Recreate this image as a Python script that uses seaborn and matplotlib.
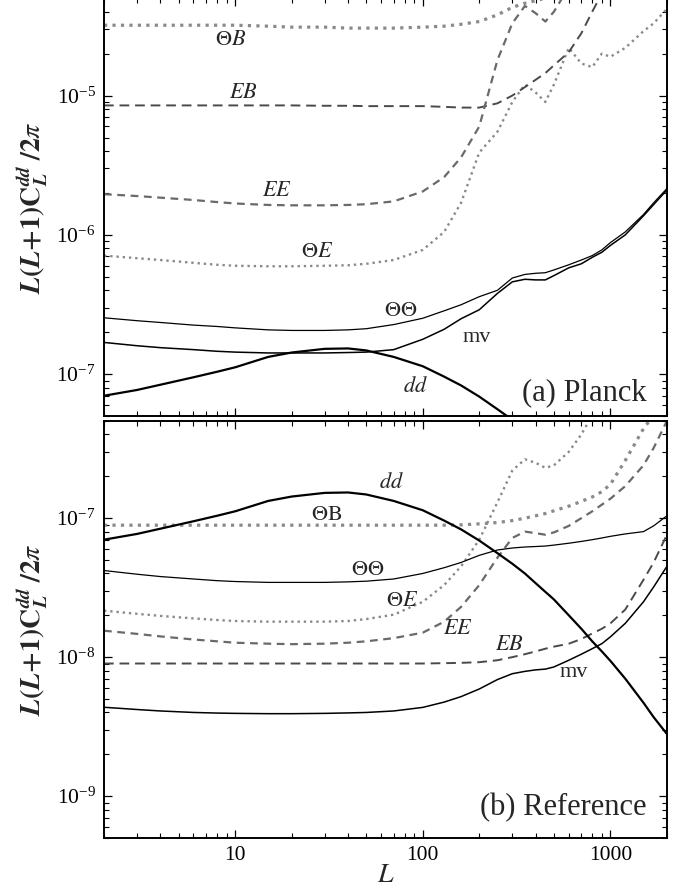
import numpy as np
import matplotlib
matplotlib.use('Agg')
import matplotlib.pyplot as plt
import matplotlib.ticker as mticker
import seaborn as sns

# multipole grid shared by every curve
L = [2, 3, 4, 6, 8, 10, 15, 20, 30, 40, 50, 70, 100, 130, 160, 200, 250, 300,
     350, 400, 450, 500, 600, 700, 800, 900, 1000, 1200, 1500, 1700, 2000]
nan = np.nan

# lensing signal (same in both panels)
dd = [7.0e-8, 7.7e-8, 8.4e-8, 9.5e-8, 1.04e-7, 1.12e-7, 1.33e-7, 1.43e-7, 1.52e-7, 1.53e-7,
      1.48e-7, 1.33e-7, 1.14e-7, 9.6e-8, 8.3e-8, 6.9e-8, 5.6e-8, 4.7e-8, 4.0e-8, 3.4e-8,
      2.95e-8, 2.6e-8, 2.0e-8, 1.6e-8, 1.3e-8, 1.1e-8, 9.4e-9, 7.0e-9, 4.7e-9, 3.7e-9, 2.8e-9]

# (a) Planck noise curves
planck_TB = [3.2e-5, 3.2e-5, 3.2e-5, 3.2e-5, 3.2e-5, 3.2e-5, 3.15e-5, 3.1e-5, 3.1e-5, 3.05e-5,
             3.05e-5, 3.05e-5, 3.1e-5, 3.15e-5, 3.25e-5, 3.4e-5, 3.8e-5, 4.3e-5, 4.6e-5, 4.8e-5,
             5.0e-5, 5.2e-5, nan, nan, nan, nan, nan, nan, nan, nan, nan]
planck_EB = [8.5e-6, 8.5e-6, 8.5e-6, 8.5e-6, 8.5e-6, 8.5e-6, 8.5e-6, 8.5e-6, 8.45e-6, 8.45e-6,
             8.4e-6, 8.4e-6, 8.4e-6, 8.3e-6, 8.2e-6, 8.2e-6, 8.8e-6, 1.0e-5, 1.15e-5, 1.3e-5,
             1.45e-5, 1.65e-5, 2.05e-5, 2.8e-5, 4.0e-5, 5.4e-5, nan, nan, nan, nan, nan]
planck_EE = [1.96e-6, 1.9e-6, 1.85e-6, 1.78e-6, 1.72e-6, 1.68e-6, 1.64e-6, 1.63e-6, 1.63e-6, 1.64e-6,
             1.66e-6, 1.74e-6, 2.05e-6, 2.6e-6, 3.6e-6, 6.0e-6, 1.8e-5, 3.3e-5, 4.4e-5, 3.9e-5,
             3.4e-5, 4.0e-5, 6.0e-5, nan, nan, nan, nan, nan, nan, nan, nan]
planck_TE = [7.1e-7, 6.8e-7, 6.6e-7, 6.3e-7, 6.1e-7, 6.0e-7, 5.95e-7, 5.95e-7, 6.0e-7, 6.05e-7,
             6.2e-7, 6.6e-7, 7.8e-7, 1.05e-6, 1.7e-6, 3.9e-6, 5.5e-6, 9.0e-6, 1.2e-5, 1.05e-5,
             9.0e-6, 1.2e-5, 2.2e-5, 1.7e-5, 1.6e-5, 2.0e-5, 1.9e-5, 2.2e-5, 2.9e-5, 3.3e-5, 4.2e-5]
planck_TT = [2.54e-7, 2.42e-7, 2.35e-7, 2.25e-7, 2.2e-7, 2.15e-7, 2.08e-7, 2.06e-7, 2.06e-7, 2.08e-7,
             2.12e-7, 2.27e-7, 2.52e-7, 2.85e-7, 3.15e-7, 3.6e-7, 4.0e-7, 4.9e-7, 5.2e-7, 5.3e-7,
             5.35e-7, 5.6e-7, 6.1e-7, 6.6e-7, 7.1e-7, 7.8e-7, 8.8e-7, 1.05e-6, 1.4e-6, 1.7e-6, 2.15e-6]
planck_mv = [1.69e-7, 1.6e-7, 1.55e-7, 1.5e-7, 1.46e-7, 1.44e-7, 1.42e-7, 1.42e-7, 1.42e-7, 1.43e-7,
             1.44e-7, 1.5e-7, 1.78e-7, 2.1e-7, 2.5e-7, 2.9e-7, 3.8e-7, 4.6e-7, 4.8e-7, 4.75e-7,
             4.75e-7, 5.1e-7, 5.8e-7, 6.2e-7, 6.9e-7, 7.5e-7, 8.4e-7, 1.0e-6, 1.37e-6, 1.65e-6, 2.1e-6]

# (b) Reference experiment noise curves
ref_TB = [8.9e-8, 8.9e-8, 8.9e-8, 8.9e-8, 8.9e-8, 8.9e-8, 8.9e-8, 8.9e-8, 8.9e-8, 8.9e-8,
          8.9e-8, 8.9e-8, 8.9e-8, 8.9e-8, 8.95e-8, 9.1e-8, 9.3e-8, 9.6e-8, 1.0e-7, 1.04e-7,
          1.08e-7, 1.13e-7, 1.22e-7, 1.32e-7, 1.42e-7, 1.55e-7, 1.75e-7, 2.6e-7, 4.4e-7, 5.5e-7, nan]
ref_TT = [4.2e-8, 3.95e-8, 3.8e-8, 3.65e-8, 3.55e-8, 3.5e-8, 3.45e-8, 3.45e-8, 3.45e-8, 3.48e-8,
          3.52e-8, 3.65e-8, 4.0e-8, 4.4e-8, 4.8e-8, 5.4e-8, 5.9e-8, 6.1e-8, 6.2e-8, 6.25e-8,
          6.3e-8, 6.4e-8, 6.6e-8, 6.8e-8, 7.0e-8, 7.2e-8, 7.4e-8, 7.7e-8, 8.0e-8, 8.8e-8, 1.04e-7]
ref_TE = [2.16e-8, 2.05e-8, 1.98e-8, 1.9e-8, 1.85e-8, 1.82e-8, 1.8e-8, 1.8e-8, 1.8e-8, 1.82e-8,
          1.88e-8, 2.02e-8, 2.5e-8, 3.3e-8, 4.5e-8, 7.0e-8, 1.3e-7, 2.2e-7, 2.65e-7, 2.5e-7,
          2.3e-7, 2.4e-7, 3.0e-7, 4.0e-7, 5.5e-7, nan, nan, nan, nan, nan, nan]
ref_EE = [1.55e-8, 1.47e-8, 1.41e-8, 1.34e-8, 1.3e-8, 1.27e-8, 1.25e-8, 1.24e-8, 1.25e-8, 1.27e-8,
          1.3e-8, 1.37e-8, 1.5e-8, 1.8e-8, 2.3e-8, 3.3e-8, 5.2e-8, 7.2e-8, 8.0e-8, 7.8e-8,
          7.6e-8, 7.9e-8, 8.8e-8, 1.0e-7, 1.12e-7, 1.25e-7, 1.38e-7, 1.7e-7, 2.4e-7, 3.2e-7, 5.0e-7]
ref_EB = [9.0e-9, 9.0e-9, 9.0e-9, 9.0e-9, 9.0e-9, 9.0e-9, 9.0e-9, 9.0e-9, 9.0e-9, 9.0e-9,
          9.0e-9, 9.0e-9, 9.0e-9, 9.05e-9, 9.1e-9, 9.2e-9, 9.5e-9, 1.0e-8, 1.05e-8, 1.1e-8,
          1.15e-8, 1.19e-8, 1.25e-8, 1.35e-8, 1.48e-8, 1.6e-8, 1.75e-8, 2.2e-8, 3.6e-8, 4.8e-8, 7.6e-8]
ref_mv = [4.36e-9, 4.2e-9, 4.1e-9, 4.0e-9, 3.96e-9, 3.94e-9, 3.92e-9, 3.92e-9, 3.94e-9, 3.97e-9,
          4.0e-9, 4.1e-9, 4.35e-9, 4.75e-9, 5.2e-9, 5.9e-9, 6.9e-9, 7.6e-9, 7.9e-9, 8.1e-9,
          8.2e-9, 8.5e-9, 9.5e-9, 1.05e-8, 1.15e-8, 1.25e-8, 1.4e-8, 1.75e-8, 2.5e-8, 3.2e-8, 4.5e-8]

sns.set_theme(style='ticks')
plt.rcParams['font.family'] = ['Liberation Serif', 'DejaVu Serif']
plt.rcParams['mathtext.fontset'] = 'stix'

fig = plt.figure(figsize=(6.84, 8.91), dpi=100)
ax1 = fig.add_axes([0.152, 0.533, 0.823, 0.469])
ax2 = fig.add_axes([0.152, 0.0595, 0.823, 0.468])

dot_c = '#8a8a8a'
ee_c = '#6a6a6a'
eb_c = '#4a4a4a'


def draw(ax, y, color, lw, ls='-', dashes=None):
    sns.lineplot(x=L, y=y, ax=ax, color=color, linewidth=lw, linestyle=ls)
    if dashes is not None:
        ax.lines[-1].set_dashes(dashes)


ylab = r'$\mathbfit{L}\mathbf{(}\mathbfit{L}\mathbf{+1)C}_{\mathbfit{L}}^{\mathbfit{dd}}\;\mathbf{/2}\pi$'

for ax, TB, EB, EE, TE, TT, mv in [(ax1, planck_TB, planck_EB, planck_EE, planck_TE, planck_TT, planck_mv),
                                   (ax2, ref_TB, ref_EB, ref_EE, ref_TE, ref_TT, ref_mv)]:
    ax.set_xscale('log')
    ax.set_yscale('log')
    draw(ax, TB, dot_c, 2.3, ':')
    draw(ax, TE, dot_c, 1.7, ':')
    draw(ax, EB, eb_c, 1.4, '--', (5, 3))
    draw(ax, EE, ee_c, 1.6, '--', (3.5, 2.5))
    draw(ax, TT, 'black', 0.9)
    draw(ax, mv, 'black', 1.1)
    draw(ax, dd, 'black', 1.6)

    ax.set_xlim(2, 2000)
    ax.set_xticks([10, 100, 1000], labels=['10', '100', '1000'])
    ax.xaxis.set_minor_formatter(mticker.NullFormatter())
    ax.yaxis.set_minor_formatter(mticker.NullFormatter())
    ax.tick_params(which='both', direction='in', top=True, right=True, colors='black',
                   labelsize=15.5, pad=6)
    ax.tick_params(which='major', length=6, width=0.9)
    ax.tick_params(which='minor', length=3.5, width=0.8)
    for s in ax.spines.values():
        s.set_linewidth(1.4)
        s.set_color('black')
    ax.set_ylabel(ylab, fontsize=20)
    ax.yaxis.set_label_coords(-0.095, 0.5)

ax1.set_ylim(5e-8, 5e-5)
ax1.set_yticks([1e-7, 1e-6, 1e-5])
ax2.set_ylim(5e-10, 5e-7)
ax2.set_yticks([1e-9, 1e-8, 1e-7])
ax1.tick_params(labelbottom=False)
ax2.set_xlabel('$L$', fontsize=20, labelpad=-2)

fs = 16
# curve labels, panel (a)
ax1.text(9.5, 2.5e-5, r'$\Theta B$', fontsize=fs, ha='center', va='center')
ax1.text(11.1, 1.03e-5, '$EB$', fontsize=fs, ha='center', va='center')
ax1.text(16.6, 2.06e-6, '$EE$', fontsize=fs, ha='center', va='center')
ax1.text(27.5, 7.5e-7, r'$\Theta E$', fontsize=fs, ha='center', va='center')
ax1.text(76, 2.8e-7, r'$\Theta\Theta$', fontsize=fs, ha='center', va='center')
ax1.text(193, 1.83e-7, 'mv', fontsize=fs, ha='center', va='center')
ax1.text(91, 8.1e-8, '$dd$', fontsize=fs, ha='center', va='center')
ax1.text(0.964, 0.055, '(a) Planck', fontsize=22, ha='right', va='center', transform=ax1.transAxes)

# curve labels, panel (b)
ax2.text(68, 1.79e-7, '$dd$', fontsize=fs, ha='center', va='center')
ax2.text(30.7, 1.05e-7, r'$\Theta\mathrm{B}$', fontsize=fs, ha='center', va='center')
ax2.text(50.7, 4.2e-8, r'$\Theta\Theta$', fontsize=fs, ha='center', va='center')
ax2.text(77.8, 2.5e-8, r'$\Theta E$', fontsize=fs, ha='center', va='center')
ax2.text(153, 1.57e-8, '$EE$', fontsize=fs, ha='center', va='center')
ax2.text(289, 1.22e-8, '$EB$', fontsize=fs, ha='center', va='center')
ax2.text(640, 7.7e-9, 'mv', fontsize=fs, ha='center', va='center')
ax2.text(0.964, 0.072, '(b) Reference', fontsize=22, ha='right', va='center', transform=ax2.transAxes)

fig.savefig('out.png', dpi=100)
